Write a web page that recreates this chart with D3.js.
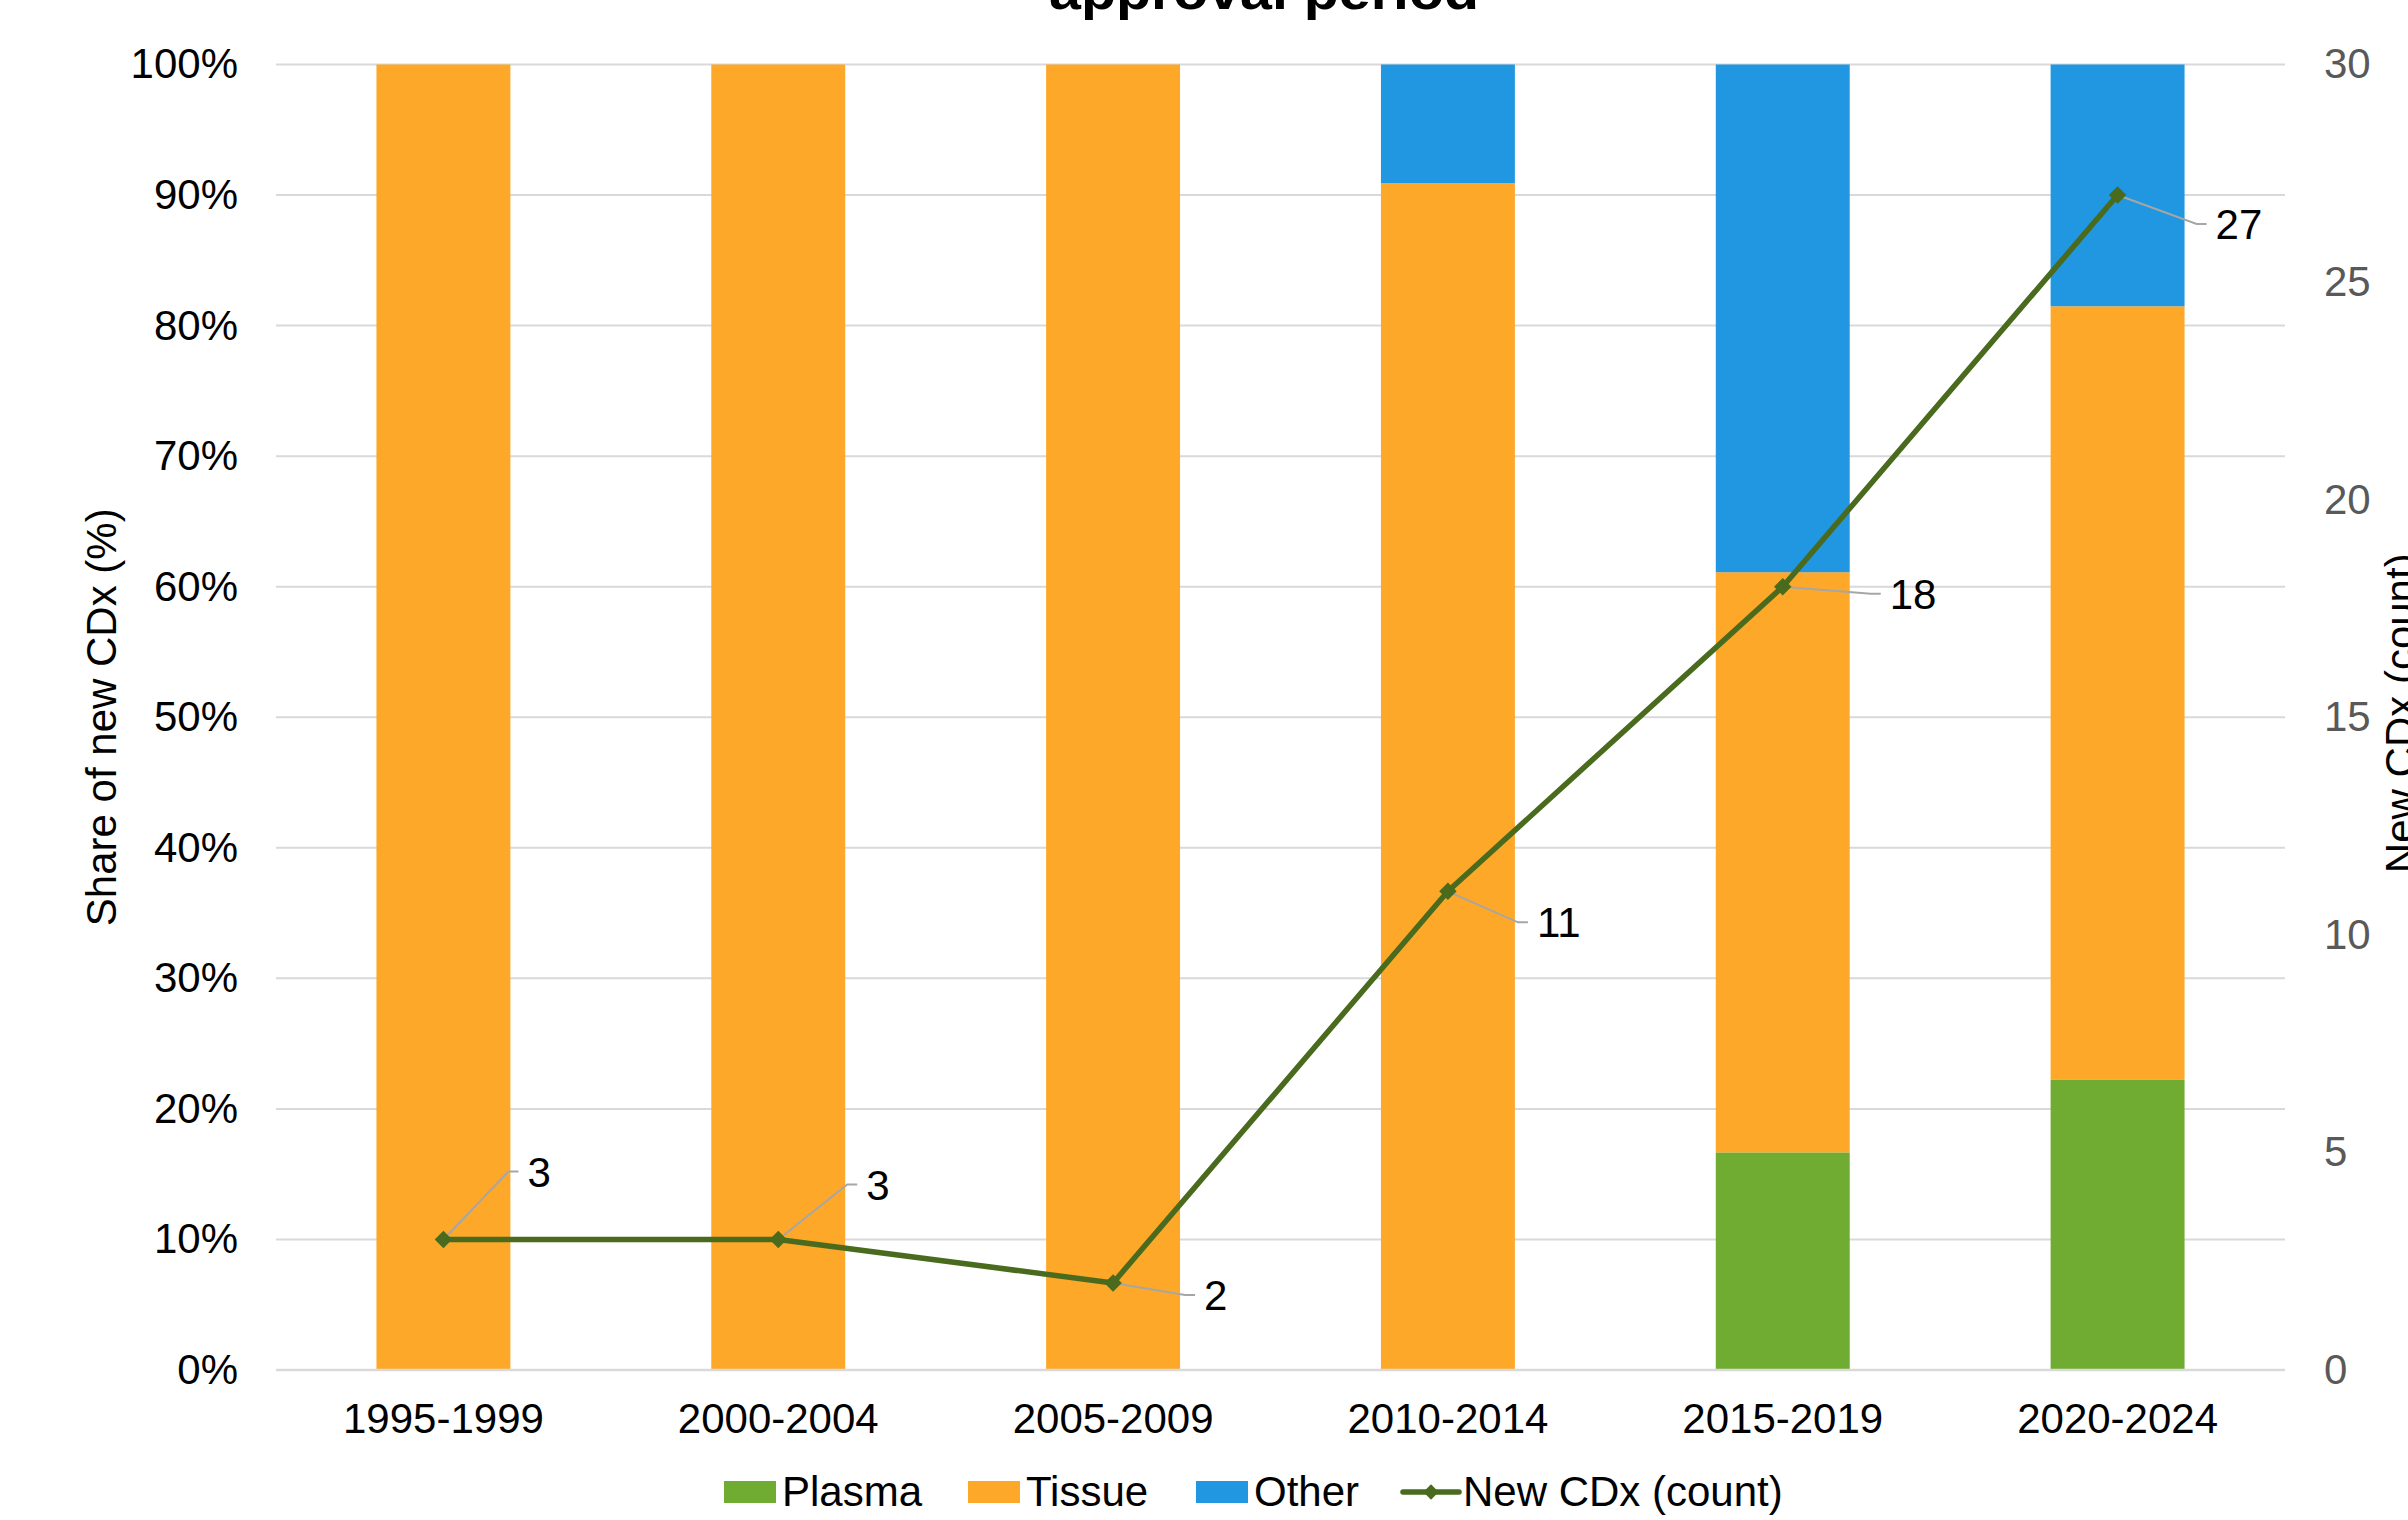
<!DOCTYPE html>
<html>
<head>
<meta charset="utf-8">
<script src="https://cdn.jsdelivr.net/npm/d3@7"></script>
<style>
  html, body { margin: 0; padding: 0; background: #fff; }
  svg { display: block; }
  text { font-family: "Liberation Sans", Arial, sans-serif; }
</style>
</head>
<body>
<svg id="chart" width="2408" height="1520"></svg>
<script>
// ---- data ----
const categories = ["1995-1999", "2000-2004", "2005-2009", "2010-2014", "2015-2019", "2020-2024"];
const plasmaShare = [0, 0, 0, 0, 0.1667, 0.2222];
const tissueShare = [1, 1, 1, 0.9091, 0.4444, 0.5926];
const otherShare  = [0, 0, 0, 0.0909, 0.3889, 0.1852];
const newCdxCount = [3, 3, 2, 11, 18, 27];
const leftTicks = [0, 0.1, 0.2, 0.3, 0.4, 0.5, 0.6, 0.7, 0.8, 0.9, 1.0];
const rightTicks = [0, 5, 10, 15, 20, 25, 30];
const seriesNames = ["Plasma", "Tissue", "Other"];
const lineName = "New CDx (count)";

// ---- layout / style ----
const colors = { Plasma: "#70AC31", Tissue: "#FEA829", Other: "#2097E0" };
const lineColor = "#4A6B1E";
const gridColor = "#D9D9D9";
const labelOffsets = [[65, -68], [69, -55], [72, 12], [70, 31], [88, 7], [79, 29]];
const plot = { left: 276, right: 2285, top: 64.5, bottom: 1370 };
const fontSize = 42;

const svg = d3.select("#chart");

const x = d3.scaleBand().domain(categories).range([plot.left, plot.right])
  .paddingInner(0.6).paddingOuter(0.3);
const y = d3.scaleLinear().domain([0, 1]).range([plot.bottom, plot.top]);
const y2 = d3.scaleLinear().domain([0, 30]).range([plot.bottom, plot.top]);

// gridlines
svg.append("g").selectAll("line").data(leftTicks).join("line")
  .attr("x1", plot.left).attr("x2", plot.right)
  .attr("y1", d => y(d)).attr("y2", d => y(d))
  .attr("stroke", gridColor).attr("stroke-width", 2);

// left axis
const leftAxis = svg.append("g").attr("transform", `translate(${plot.left},0)`)
  .call(d3.axisLeft(y).tickValues(leftTicks).tickFormat(d3.format(".0%")).tickSize(0).tickPadding(38));
leftAxis.select(".domain").remove();
leftAxis.selectAll("text").attr("font-size", fontSize).attr("fill", "#000")
  .attr("font-family", "Liberation Sans, Arial, sans-serif");

// right axis
const rightAxis = svg.append("g").attr("transform", `translate(${plot.right},0)`)
  .call(d3.axisRight(y2).tickValues(rightTicks).tickFormat(d3.format("d")).tickSize(0).tickPadding(39));
rightAxis.select(".domain").remove();
rightAxis.selectAll("text").attr("font-size", fontSize).attr("fill", "#595959")
  .attr("font-family", "Liberation Sans, Arial, sans-serif");

// stacked bars
const rows = categories.map((c, i) => ({ cat: c, Plasma: plasmaShare[i], Tissue: tissueShare[i], Other: otherShare[i] }));
const stacked = d3.stack().keys(seriesNames)(rows);
svg.append("g").selectAll("g").data(stacked).join("g")
  .attr("fill", d => colors[d.key])
  .selectAll("rect").data(d => d).join("rect")
  .attr("x", d => x(d.data.cat))
  .attr("width", x.bandwidth())
  .attr("y", d => y(d[1]))
  .attr("height", d => Math.max(0, y(d[0]) - y(d[1])));

// bottom axis line
svg.append("line").attr("x1", plot.left).attr("x2", plot.right)
  .attr("y1", plot.bottom).attr("y2", plot.bottom)
  .attr("stroke", gridColor).attr("stroke-width", 2.5);

// x axis labels
const bottomAxis = svg.append("g").attr("transform", `translate(0,${plot.bottom})`)
  .call(d3.axisBottom(x).tickSize(0).tickPadding(33));
bottomAxis.select(".domain").remove();
bottomAxis.selectAll("text").attr("font-size", fontSize).attr("fill", "#000")
  .attr("font-family", "Liberation Sans, Arial, sans-serif");

// line series
const pts = categories.map((c, i) => [x(c) + x.bandwidth() / 2, y2(newCdxCount[i])]);
svg.append("path").attr("d", d3.line()(pts))
  .attr("fill", "none").attr("stroke", lineColor).attr("stroke-width", 5.5)
  .attr("stroke-linejoin", "round");

// leader lines + labels
const lab = svg.append("g");
pts.forEach((p, i) => {
  const [dx, dy] = labelOffsets[i];
  const kx = p[0] + dx, ky = p[1] + dy;
  lab.append("path").attr("d", `M${p[0]},${p[1]}L${kx},${ky}L${kx + 10},${ky}`)
    .attr("fill", "none").attr("stroke", "#A6A6A6").attr("stroke-width", 2);
  lab.append("text").attr("x", kx + 19).attr("y", ky).attr("dy", "0.36em")
    .attr("font-size", fontSize).attr("fill", "#000").text(newCdxCount[i]);
});

// markers
const diamond = d3.symbol().type(d3.symbolDiamond2).size(150);
svg.append("g").selectAll("path").data(pts).join("path")
  .attr("d", diamond)
  .attr("transform", d => `translate(${d[0]},${d[1]})`)
  .attr("fill", lineColor).attr("stroke", lineColor).attr("stroke-width", 1.5);

// axis titles
svg.append("text").attr("transform", `translate(116,${(plot.top + plot.bottom) / 2}) rotate(-90)`)
  .attr("text-anchor", "middle").attr("font-size", fontSize).attr("fill", "#000")
  .text("Share of new CDx (%)");
svg.append("text").attr("transform", `translate(2415,${(plot.top + plot.bottom) / 2 - 4}) rotate(-90)`)
  .attr("text-anchor", "middle").attr("font-size", fontSize).attr("fill", "#000")
  .text("New CDx (count)");

// title (only bottom visible)
svg.append("text").attr("x", 1264).attr("y", 9).attr("text-anchor", "middle")
  .attr("font-size", 52).attr("font-weight", "bold").attr("fill", "#000")
  .attr("textLength", 430).attr("lengthAdjust", "spacingAndGlyphs")
  .text("approval period");

// legend
const legend = svg.append("g");
const legendY = 1492;
const legendItems = [
  { name: seriesNames[0], x: 724, type: "rect" },
  { name: seriesNames[1], x: 968, type: "rect" },
  { name: seriesNames[2], x: 1196, type: "rect" },
  { name: lineName, x: 1403, type: "line" }
];
legendItems.forEach(it => {
  if (it.type === "rect") {
    legend.append("rect").attr("x", it.x).attr("y", legendY - 11).attr("width", 52).attr("height", 22)
      .attr("fill", colors[it.name]);
    legend.append("text").attr("x", it.x + 58).attr("y", legendY + 14)
      .attr("font-size", fontSize).attr("fill", "#000").text(it.name);
  } else {
    legend.append("line").attr("x1", it.x).attr("x2", it.x + 56).attr("y1", legendY).attr("y2", legendY)
      .attr("stroke", lineColor).attr("stroke-width", 5.5).attr("stroke-linecap", "round");
    legend.append("path").attr("d", diamond).attr("transform", `translate(${it.x + 28},${legendY})`)
      .attr("fill", lineColor);
    legend.append("text").attr("x", it.x + 60).attr("y", legendY + 14)
      .attr("font-size", fontSize).attr("fill", "#000").text(it.name);
  }
});
</script>
</body>
</html>
